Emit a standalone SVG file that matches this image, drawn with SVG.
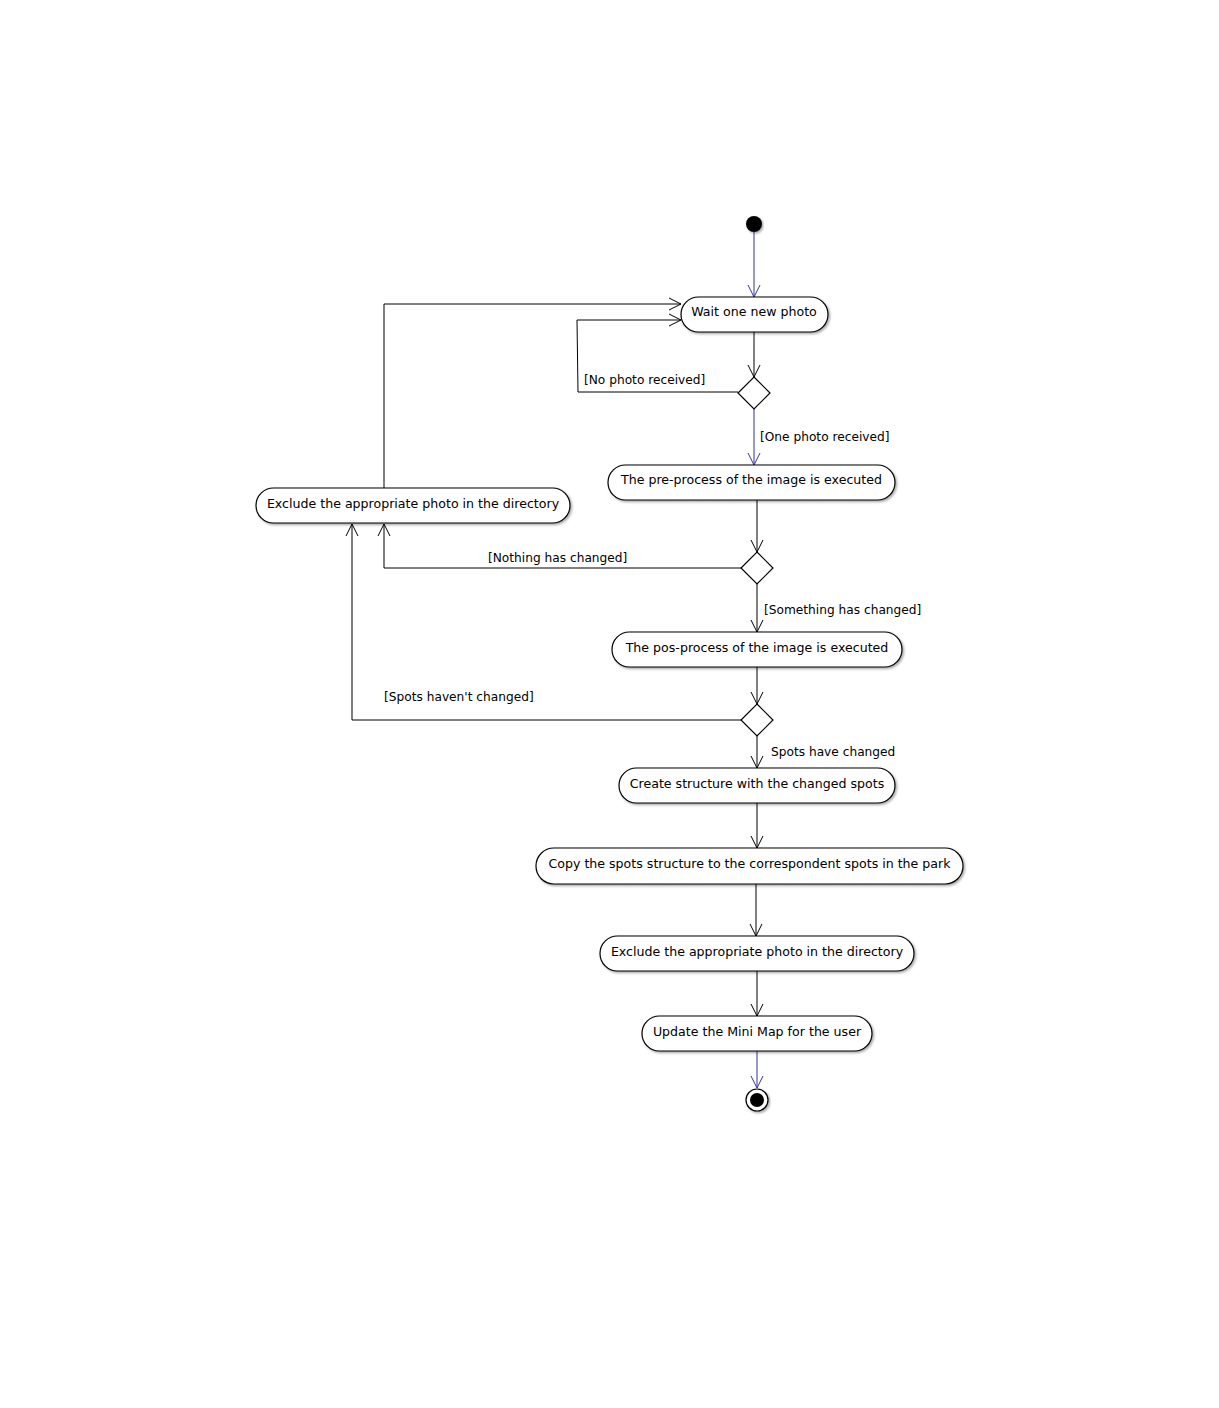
<svg xmlns="http://www.w3.org/2000/svg" width="1219" height="1408" viewBox="0 0 1219 1408">
<style>
.node rect{fill:#fff;stroke:#000;stroke-width:1.2;filter:url(#sh)}
.node text,.lbl{font-family:"DejaVu Sans",sans-serif;font-size:12.6px;fill:#000}
.lbl{font-size:12.2px}
.node text{text-anchor:middle}
.c{fill:none;stroke:#000;stroke-width:1}
.b{stroke:#33339e}
.d{fill:#fff;stroke:#000;stroke-width:1.2}
</style>
<defs>
<filter id="sh" x="-10%" y="-20%" width="120%" height="160%">
<feDropShadow dx="1.5" dy="1.5" stdDeviation="1" flood-color="#000" flood-opacity="0.35"/>
</filter>
<marker id="a" markerWidth="14" markerHeight="14" viewBox="-12 -7 14 14" refX="0" refY="0" orient="auto" markerUnits="userSpaceOnUse">
<path d="M-12,-6 L0,0 L-12,6" fill="none" stroke="#000" stroke-width="1"/>
</marker>
<marker id="ab" markerWidth="14" markerHeight="14" viewBox="-12 -7 14 14" refX="0" refY="0" orient="auto" markerUnits="userSpaceOnUse">
<path d="M-12,-6 L0,0 L-12,6" fill="none" stroke="#33339e" stroke-width="1"/>
</marker>
</defs>
<rect width="1219" height="1408" fill="#fff"/>
<g id="connectors">
<path class="c b" d="M754,232 V297" marker-end="url(#ab)"/>
<path class="c" d="M754,332 V377" marker-end="url(#a)"/>
<path class="c" d="M738,392 H578 L577,320 H681" marker-end="url(#a)"/>
<path class="c b" d="M754,409 V465" marker-end="url(#ab)"/>
<path class="c" d="M757,500 V552" marker-end="url(#a)"/>
<path class="c" d="M741,568 H384 V524" marker-end="url(#a)"/>
<path class="c" d="M384,488 V304 H681" marker-end="url(#a)"/>
<path class="c" d="M757,584 V632" marker-end="url(#a)"/>
<path class="c" d="M757,667 V704" marker-end="url(#a)"/>
<path class="c" d="M741,720 H352 V524" marker-end="url(#a)"/>
<path class="c" d="M757,736 V768" marker-end="url(#a)"/>
<path class="c" d="M757,803 V848" marker-end="url(#a)"/>
<path class="c" d="M756,884 V936" marker-end="url(#a)"/>
<path class="c" d="M757,971 V1016" marker-end="url(#a)"/>
<path class="c b" d="M757,1051 V1088" marker-end="url(#ab)"/>
<text class="lbl" x="584" y="384">[No photo received]</text>
<text class="lbl" x="760" y="441">[One photo received]</text>
<text class="lbl" x="488" y="562">[Nothing has changed]</text>
<text class="lbl" x="764" y="614">[Something has changed]</text>
<text class="lbl" x="384" y="701">[Spots haven't changed]</text>
<text class="lbl" x="771" y="756">Spots have changed</text>
</g>
<g id="start"><circle cx="754" cy="224" r="8" fill="#000" filter="url(#sh)"/></g>
<g id="wait" class="node"><rect x="681" y="297" width="147" height="35" rx="17.5"/><text x="754" y="316">Wait one new photo</text></g>
<g id="dec1"><path class="d" d="M754,377 L770,393 L754,409 L738,393 Z"/></g>
<g id="pre" class="node"><rect x="608" y="465" width="287" height="35" rx="17.5"/><text x="751.5" y="484">The pre-process of the image is executed</text></g>
<g id="exclude1" class="node"><rect x="256" y="488" width="314" height="35" rx="17.5"/><text x="413" y="508">Exclude the appropriate photo in the directory</text></g>
<g id="dec2"><path class="d" d="M757,552 L773,568 L757,584 L741,568 Z"/></g>
<g id="pos" class="node"><rect x="612" y="632" width="290" height="35" rx="17.5"/><text x="757" y="652">The pos-process of the image is executed</text></g>
<g id="dec3"><path class="d" d="M757,704 L773,720 L757,736 L741,720 Z"/></g>
<g id="create" class="node"><rect x="619" y="768" width="276" height="35" rx="17.5"/><text x="757" y="788">Create structure with the changed spots</text></g>
<g id="copy" class="node"><rect x="536" y="848" width="427" height="36" rx="18"/><text x="749.5" y="868">Copy the spots structure to the correspondent spots in the park</text></g>
<g id="exclude2" class="node"><rect x="600" y="936" width="314" height="35" rx="17.5"/><text x="757" y="956">Exclude the appropriate photo in the directory</text></g>
<g id="update" class="node"><rect x="642" y="1016" width="230" height="35" rx="17.5"/><text x="757" y="1036">Update the Mini Map for the user</text></g>
<g id="end"><circle cx="757" cy="1100" r="11" fill="#fff" stroke="#000" stroke-width="1.2" filter="url(#sh)"/><circle cx="757" cy="1100" r="7" fill="#000"/></g>
</svg>
